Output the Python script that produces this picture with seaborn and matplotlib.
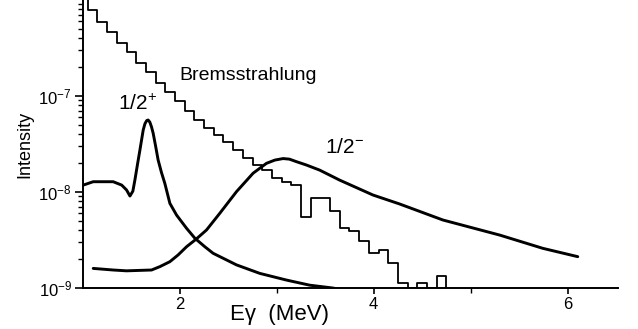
import numpy as np
import pandas as pd
import matplotlib
matplotlib.use("Agg")
import matplotlib.pyplot as plt
import seaborn as sns
from matplotlib.ticker import LogLocator, NullFormatter

# ---------------- data ----------------
# Bremsstrahlung histogram: left bin edges (MeV) and bin heights; last entry closes the histogram
brems_edges = [0.95, 1.05, 1.15, 1.25, 1.35, 1.45, 1.55, 1.65, 1.75, 1.85,
               1.95, 2.05, 2.15, 2.25, 2.35, 2.45, 2.55, 2.65, 2.75, 2.85,
               2.95, 3.05, 3.15, 3.25, 3.35, 3.45, 3.55, 3.65, 3.75, 3.85,
               3.95, 4.05, 4.15, 4.25, 4.35, 4.45, 4.55, 4.65, 4.75]
brems_vals = [1.2e-6, 7.78e-7, 5.97e-7, 4.64e-7, 3.56e-7, 2.84e-7, 2.23e-7, 1.76e-7, 1.38e-7, 1.11e-7,
              8.87e-8, 6.98e-8, 5.62e-8, 4.59e-8, 3.92e-8, 3.34e-8, 2.74e-8, 2.24e-8, 1.91e-8, 1.69e-8,
              1.39e-8, 1.28e-8, 1.18e-8, 5.45e-9, 8.6e-9, 8.6e-9, 6.39e-9, 4.25e-9, 3.9e-9, 3.12e-9,
              2.3e-9, 2.49e-9, 1.82e-9, 1.13e-9, 1.0e-9, 1.13e-9, 1.0e-9, 1.34e-9, 1.0e-9]

# 1/2+ resonance curve
plus_E = [1.003, 1.106, 1.312, 1.40, 1.45, 1.485, 1.515, 1.536, 1.565, 1.588, 1.622, 1.640, 1.658, 1.673,
          1.690, 1.708, 1.725, 1.750, 1.776, 1.810, 1.845, 1.897, 1.966, 2.069, 2.155, 2.258, 2.343,
          2.585, 2.825, 3.10, 3.34, 3.577, 3.70]
plus_I = [1.18e-8, 1.28e-8, 1.28e-8, 1.18e-8, 1.05e-8, 9.08e-9, 1.02e-8, 1.33e-8, 2.0e-8, 2.74e-8, 4.43e-8,
          5.15e-8, 5.55e-8, 5.62e-8, 5.35e-8, 4.75e-8, 4.08e-8, 3.0e-8, 2.15e-8, 1.6e-8, 1.23e-8,
          7.62e-9, 5.75e-9, 4.19e-9, 3.30e-9, 2.69e-9, 2.30e-9, 1.74e-9, 1.42e-9, 1.21e-9, 1.07e-9, 1.0e-9, 0.95e-9]

# 1/2- resonance curve
minus_E = [1.106, 1.312, 1.45, 1.708, 1.794, 1.897, 1.982, 2.069, 2.165, 2.275, 2.412, 2.585,
           2.756, 2.894, 2.98, 3.065, 3.13, 3.203, 3.306, 3.443, 3.649, 3.993, 4.268, 4.714, 5.30, 5.745, 6.106]
minus_I = [1.60e-9, 1.54e-9, 1.51e-9, 1.54e-9, 1.67e-9, 1.88e-9, 2.21e-9, 2.69e-9, 3.21e-9, 4.02e-9, 6.0e-9, 1.01e-8,
           1.57e-8, 1.99e-8, 2.15e-8, 2.23e-8, 2.2e-8, 2.07e-8, 1.91e-8, 1.69e-8, 1.33e-8, 9.3e-9, 7.5e-9, 5.11e-9,
           3.56e-9, 2.59e-9, 2.12e-9]

x_ticks = [2, 4, 6]
x_tick_labels = ["2", "4", "6"]
y_ticks = [1e-9, 1e-8, 1e-7]
y_tick_labels = ["10$^{-9}$", "10$^{-8}$", "10$^{-7}$"]

# ---------------- style ----------------
sns.set_theme(style="ticks")
plt.rcParams["font.family"] = ["Liberation Sans", "DejaVu Sans"]
plt.rcParams["mathtext.fontset"] = "custom"
plt.rcParams["mathtext.rm"] = "Liberation Sans"
plt.rcParams["mathtext.it"] = "Liberation Sans:italic"
plt.rcParams["mathtext.bf"] = "Liberation Sans:bold"

fig = plt.figure(figsize=(6.38, 3.29), dpi=100)
ax = fig.add_axes([0.130, 0.1246, 0.8385, 0.8754])
ax.set_yscale("log")

brems = pd.DataFrame({"E": brems_edges, "I": brems_vals})
plus = pd.DataFrame({"E": plus_E, "I": plus_I})
minus = pd.DataFrame({"E": minus_E, "I": minus_I})

sns.lineplot(data=brems, x="E", y="I", drawstyle="steps-post", color="black",
             lw=1.3, estimator=None, sort=False, ax=ax)
sns.lineplot(data=plus, x="E", y="I", color="black", lw=2.1, estimator=None, sort=False, ax=ax)
sns.lineplot(data=minus, x="E", y="I", color="black", lw=2.1, estimator=None, sort=False, ax=ax)

ax.set_xlim(1.0, 6.52)
ax.set_ylim(1e-9, 1e-6)

ax.set_xticks(x_ticks)
ax.set_xticklabels(x_tick_labels)
ax.set_xticks([3, 5], minor=True)
ax.set_yticks(y_ticks)
ax.set_yticklabels(y_tick_labels)
ax.yaxis.set_minor_locator(LogLocator(base=10, subs=np.arange(2, 10), numticks=20))
ax.yaxis.set_minor_formatter(NullFormatter())

ax.tick_params(axis="both", which="major", direction="out", width=1.2,
               color="black", labelsize=12, labelcolor="black")
ax.tick_params(axis="y", which="major", length=5.5, pad=2.5)
ax.tick_params(axis="x", which="major", length=4.0, pad=2.5)
ax.tick_params(axis="both", which="minor", direction="out", length=3.3, width=1.0, color="black")

for s in ["top", "right"]:
    ax.spines[s].set_visible(False)
for s in ["left", "bottom"]:
    ax.spines[s].set_linewidth(1.4)
    ax.spines[s].set_color("black")

ax.set_xlabel("E\u03b3  (MeV)", fontsize=16, color="black")
ax.xaxis.set_label_coords(0.368, -0.055)
ax.set_ylabel("Intensity", fontsize=13, color="black")
ax.yaxis.set_label_coords(-0.093, 0.5)

ax.text(2.0, 1.47e-7, "Bremsstrahlung", fontsize=14, color="black", va="baseline", ha="left")
ax.text(1.36, 7.14e-8, "1/2$^{+}$", fontsize=15, color="black", va="baseline", ha="left")
ax.text(3.495, 2.55e-8, "1/2$^{-}$", fontsize=15, color="black", va="baseline", ha="left")

fig.savefig("out.png", dpi=100)
